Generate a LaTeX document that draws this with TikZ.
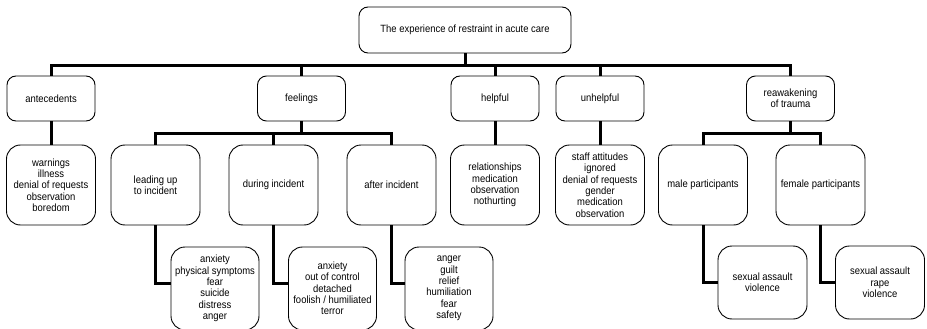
\documentclass[tikz,border=0pt]{standalone}
\usepackage{fontspec}
\setmainfont[FakeStretch=0.9]{Liberation Sans}
\begin{document}
\begin{tikzpicture}[x=1pt,y=-1pt,
  box/.style={draw, line width=0.9pt, align=center, inner sep=1pt,
    font=\fontsize{10.5}{11.3}\selectfont},
  lvltop/.style={box, rounded corners=9pt, minimum width=212pt, minimum height=46pt},
  lvlone/.style={box, rounded corners=9pt, minimum width=88pt, minimum height=45pt},
  lvltwo/.style={box, rounded corners=14pt, minimum width=89pt, minimum height=80pt},
  lvlthree/.style={box, rounded corners=14pt, minimum width=88pt, minimum height=83pt},
  lvlshort/.style={box, rounded corners=14pt, minimum width=89pt, minimum height=73pt},
  link/.style={line width=3pt}]
\path[fill=white] (0,0) rectangle (927,329);
\useasboundingbox (0,0) rectangle (927,329);

% root
\node[lvltop] (root) at (465,30) {The experience of restraint in acute care};

% first level
\node[lvlone] (ante)  at (51,98.5)    {antecedents};
\node[lvlone] (feel)  at (301.5,98.5) {feelings};
\node[lvlone] (help)  at (495,98.5)   {helpful};
\node[lvlone] (unhelp) at (600,98.5)  {unhelpful};
\node[lvlone] (trauma) at (790.5,98.5) {reawakening\\of trauma};

% second level
\node[lvltwo] (anteL) at (51,185) {warnings\\illness\\denial of requests\\observation\\boredom};
\node[lvltwo] (lead)  at (155.5,185) {leading up\\to incident};
\node[lvltwo] (dur)   at (273.5,185) {during incident};
\node[lvltwo] (aft)   at (391.5,185) {after incident};
\node[lvltwo] (helpL) at (495,185) {relationships\\medication\\observation\\nothurting};
\node[lvltwo] (unhelpL) at (600,185) {staff attitudes\\ignored\\denial of requests\\gender\\medication\\observation};
\node[lvltwo] (male)  at (703,185) {male participants};
\node[lvltwo] (fem)   at (820.5,185) {female participants};

% third level
\node[lvlthree] (leadL) at (215,288.5) {anxiety\\physical symptoms\\fear\\suicide\\distress\\anger};
\node[lvlthree] (durL)  at (332.5,288.5) {anxiety\\out of control\\detached\\foolish / humiliated\\terror};
\node[lvlthree] (aftL)  at (449,288.5) {anger\\guilt\\relief\\humiliation\\fear\\safety};
\node[lvlshort] (maleL) at (762.5,282.5) {sexual assault\\violence};
\node[lvlshort] (femL)  at (880,282.5) {sexual assault\\rape\\violence};

% connectors: root to first level
\foreach \c in {ante,feel,help,unhelp,trauma}
  \draw[link] (root.south) -- ++(0,12) -| (\c.north);

% connectors: first to second level
\draw[link] (ante.south) -- (anteL.north);
\draw[link] (help.south) -- (helpL.north);
\draw[link] (unhelp.south) -- (unhelpL.north);
\foreach \c in {lead,dur,aft}
  \draw[link] (feel.south) -- ++(0,12) -| (\c.north);
\foreach \c in {male,fem}
  \draw[link] (trauma.south) -- ++(0,12) -| (\c.north);

% connectors: second to third level
\draw[link] (lead.south) |- ([yshift=5.5pt]leadL.west);
\draw[link] (dur.south)  |- ([yshift=5.5pt]durL.west);
\draw[link] (aft.south)  |- ([yshift=5.5pt]aftL.west);
\draw[link] (male.south) |- (maleL.west);
\draw[link] (fem.south)  |- (femL.west);
\end{tikzpicture}
\end{document}
